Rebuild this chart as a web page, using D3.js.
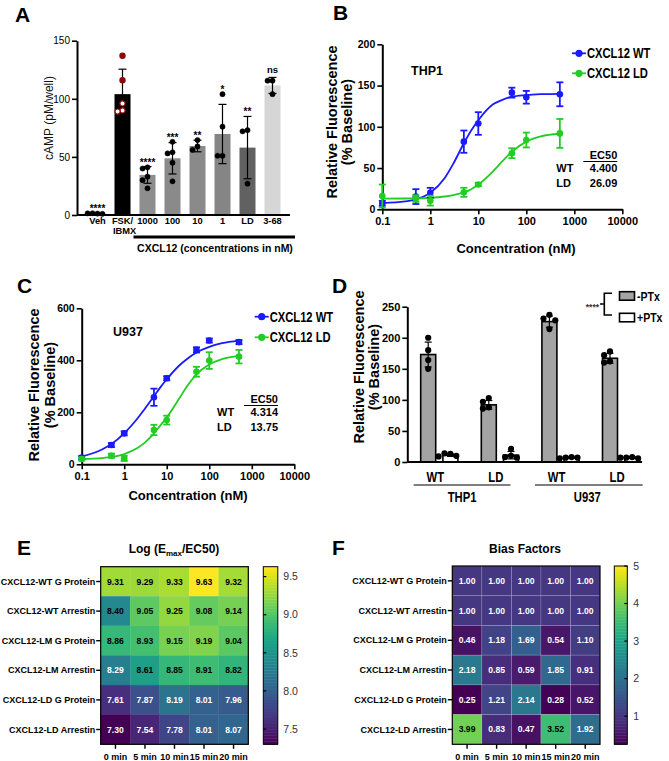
<!DOCTYPE html>
<html><head><meta charset="utf-8">
<script src="https://cdn.jsdelivr.net/npm/d3@7"></script>
<style>body{margin:0;background:#fff}svg{display:block}</style>
</head><body><div id="chart"></div>
<script>
// ---------- DATA ----------
// Panel A
const aCategories = ["Veh","FSK/IBMX","1000","100","10","1","LD","3-68"];
const aMeans = [1, 104, 34.5, 48.8, 59.4, 69.7, 58, 111.5];
const aSD = [0.4, 21.5, 7.2, 13.5, 5, 25.5, 26.8, 6.9];
const aPoints = [[1.2,1.5,1.0,1.4],[137,116,96,90,89],[41,40,33,30,23],[63,54,53,45,29],[64.5,59,56],[104,76,51,51],[73,72,27],[115.6,115.6,104]];
const aSig = ["****","","****","***","**","*","**","ns"];
const aYTicks = [0,50,100,150];
// Panel B (THP1)
const conc = [0.1,0.5,1,5,10,50,100,500];
const bWTMean = [7.3,15.4,20,82,104,141.4,135.8,139.4];
const bWTErr = [3,9,6,13.5,13.7,6,7.7,14.5];
const bLDMean = [16,13,10.5,20.6,30,68,84,92];
const bLDErr = [14,4,6,5.5,2,6,9,17.5];
const curveConc = [0.1,0.3,0.5,1,2,3,5,7,10,20,30,50,100,200,500];
const bWTCurve = [7.5,9.5,12,20,38,55,80,95,108,127,132,136.5,138.5,139.5,140];
const bLDCurve = [13,13.1,13.2,13.9,15.5,17.2,20.5,24,30,45.8,56.8,69.7,82,88.4,91.6];
const bEC50 = ["4.400","26.09"];
// Panel C (U937)
const cWTMean = [25.6,74,119,258,331,440,476,470];
const cWTErr = [6,8,8,33,8,10,8,8];
const cLDMean = [20.5,33,23,132,170,356,399,414];
const cLDErr = [6,8,10,20,17,19,32,26];
const cWTCurve = [30,57,78,119,174,212,262,295,327,381,405,430,452,466,476];
const cLDCurve = [20,24,28.4,39.5,61.7,82.2,119,149,180,255,300,346,384,404.7,417];
const cEC50 = ["4.314","13.75"];
const seriesNames = ["CXCL12 WT","CXCL12 LD"];
const ec50Rows = ["WT","LD"];
const logTicks = [0.1,1,10,100,1000,10000];
// Panel D
const dGroups = ["THP1 WT","THP1 LD","U937 WT","U937 LD"];
const dGroupLabels = ["WT","LD","WT","LD"];
const dCellLines = ["THP1","U937"];
const dTreat = ["-PTx","+PTx"];
const dMinusMean = [173,92,226,167];
const dMinusSD = [20,7,9,8];
const dPlusMean = [11,11,7,7];
const dPlusSD = [2,6,1,1.5];
const dMinusPts = [[200,180,164,150],[103,97,88,86],[237,231,228,214],[178,172,162,160]];
const dPlusPts = [[13,14,10,9],[21,10,8,7],[8,7,7,6],[8,7,6,7]];
// Panels E, F
const heatRows = ["CXCL12-WT G Protein","CXCL12-WT Arrestin","CXCL12-LM G Protein","CXCL12-LM Arrestin","CXCL12-LD G Protein","CXCL12-LD Arrestin"];
const heatCols = ["0 min","5 min","10 min","15 min","20 min"];
const eValues = [
  [9.31,9.29,9.33,9.63,9.32],
  [8.40,9.05,9.25,9.08,9.14],
  [8.86,8.93,9.15,9.19,9.04],
  [8.29,8.61,8.85,8.91,8.82],
  [7.61,7.87,8.19,8.01,7.96],
  [7.30,7.54,7.78,8.01,8.07]];
const eTicks = [7.5,8.0,8.5,9.0,9.5];
const fValues = [
  [1.00,1.00,1.00,1.00,1.00],
  [1.00,1.00,1.00,1.00,1.00],
  [0.46,1.18,1.69,0.54,1.10],
  [2.18,0.85,0.59,1.85,0.91],
  [0.25,1.21,2.14,0.28,0.52],
  [3.99,0.83,0.47,3.52,1.92]];
const fTicks = [1,2,3,4,5];

// ---------- STYLE ----------
const FONT = '"Liberation Sans", Arial, Helvetica, sans-serif';
const aFills = ["#ffffff","#000000","#8e8e8e","#8a8a8a","#8a8a8a","#858585","#616161","#d6d6d6"];
const BLUE = "#1a1aff", GREEN = "#22cc22";

const svg = d3.select("#chart").append("svg").attr("width",669).attr("height",761).style("font-family",FONT);

function txt(g,x,y,s,o={}){
  const t=g.append("text").text(s)
    .attr("font-size",o.size||10).attr("font-weight",o.bold?"bold":"normal")
    .attr("text-anchor",o.anchor||"start").attr("fill",o.fill||"#000");
  if(o.narrow){
    t.attr("x",0).attr("y",0).attr("transform",`translate(${x},${y}) scale(${o.narrow},1)`);
  } else {
    t.attr("x",x).attr("y",y);
    if(o.rotate) t.attr("transform",`rotate(-90,${x},${y})`);
  }
  if(o.dy) t.attr("dy",o.dy);
  return t;
}
function styleAxis(g,fs,bold){
  g.attr("font-family",FONT);
  g.select(".domain").attr("stroke","#000").attr("stroke-width",2);
  g.selectAll(".tick line").attr("stroke","#000").attr("stroke-width",1.6);
  g.selectAll(".tick text").attr("font-size",fs).attr("font-weight",bold?"bold":"normal").attr("fill","#000");
}
function swarm(vals,yS,r){
  const placed=[];const step=1.9*r;
  return vals.map(v=>{
    const y=yS(v);
    for(const k of [0,-1,1,-2,2,-3,3]){
      const x=k*step;
      if(placed.every(p=>Math.hypot(p.x-x,p.y-y)>=1.9*r)){placed.push({x,y});return {x,y,v};}
    }
    placed.push({x:0,y});return {x:0,y,v};
  });
}
function errBar(g,x,y1,y2,cap,color,w){
  g.append("line").attr("x1",x).attr("x2",x).attr("y1",y1).attr("y2",y2).attr("stroke",color).attr("stroke-width",w);
  [y1,y2].forEach(y=>g.append("line").attr("x1",x-cap/2).attr("x2",x+cap/2).attr("y1",y).attr("y2",y).attr("stroke",color).attr("stroke-width",w));
}
// panel letters
[["A",15,22],["B",333,20],["C",17,293],["D",332,293],["E",17,555],["F",332,555]].forEach(([t,x,y])=>txt(svg,x,y,t,{size:21,bold:true}));

// ---------- PANEL A ----------
(function(){
  const g=svg.append("g");
  const y=d3.scaleLinear().domain([0,150]).range([215,40.7]);
  const x=d3.scaleBand().domain(aCategories).range([85,285]).paddingInner(0.36).paddingOuter(0.18);
  const bw=x.bandwidth();
  aCategories.forEach((c,i)=>{
    g.append("rect").attr("x",x(c)).attr("y",y(aMeans[i])).attr("width",bw).attr("height",y(0)-y(aMeans[i])).attr("fill",aFills[i]);
  });
  aCategories.forEach((c,i)=>{
    const cx=x(c)+bw/2;
    if(i>0) errBar(g,cx,y(aMeans[i]-aSD[i]),y(aMeans[i]+aSD[i]),8,"#000",1.2);
    const r=2.6;
    swarm(aPoints[i],y,r).forEach(p=>{
      const red=i===1;
      g.append("circle").attr("cx",cx+p.x).attr("cy",p.y).attr("r",r)
        .attr("fill",red?(p.v>aMeans[i]+5?"#8b0a0a":"#fff"):"#000")
        .attr("stroke",red?"#8b0a0a":"#000").attr("stroke-width",red?1.2:0.5);
    });
    if(aSig[i]){
      const top=Math.max(aMeans[i]+aSD[i],d3.max(aPoints[i]));
      txt(g,cx,y(top)-(aSig[i]==="ns"?4:1),aSig[i],{size:aSig[i]==="ns"?9.5:10,bold:true,anchor:"middle"});
    }
    const parts=c.includes("/")?[c.split("/")[0]+"/",c.split("/")[1]]:[c];
    parts.forEach((p,k)=>txt(g,cx+(k===1?2:0),224+k*10,p,{size:9.3,bold:true,anchor:"middle"}));
  });
  const ax=g.append("g").attr("transform","translate(77,0)").call(d3.axisLeft(y).tickValues(aYTicks).tickSize(5).tickSizeOuter(0).tickPadding(2));
  styleAxis(ax,10,false);
  g.append("line").attr("x1",77).attr("x2",290).attr("y1",215).attr("y2",215).attr("stroke","#000").attr("stroke-width",2);
  g.append("line").attr("x1",x("1000")-6).attr("x2",295).attr("y1",237).attr("y2",237).attr("stroke","#000").attr("stroke-width",3);
  txt(g,215,252,"CXCL12 (concentrations in nM)",{size:10.5,bold:true,anchor:"middle"});
  txt(g,53,118,"cAMP (pM/well)",{size:12,anchor:"middle",rotate:true,fill:"#111"});
})();

// ---------- PANELS B & C ----------
function dosePanel(cfg){
  const g=svg.append("g");
  const x=d3.scaleLog().domain([0.1,10000]).range(cfg.xr);
  const y=d3.scaleLinear().domain(cfg.yd).range(cfg.yr);
  const ax=g.append("g").attr("transform",`translate(${cfg.xr[0]},0)`).call(d3.axisLeft(y).tickValues(cfg.yTicks).tickSize(5).tickSizeOuter(0).tickPadding(2));
  styleAxis(ax,10.5,true);
  const bx=g.append("g").attr("transform",`translate(0,${cfg.yr[0]})`).call(d3.axisBottom(x).tickValues(logTicks).tickFormat(d=>String(d)).tickSize(5).tickSizeOuter(0).tickPadding(3));
  styleAxis(bx,11,true);
  const line=d3.line().x(d=>x(d[0])).y(d=>y(d[1])).curve(d3.curveMonotoneX);
  const series=[[cfg.wtM,cfg.wtE,cfg.wtC,BLUE],[cfg.ldM,cfg.ldE,cfg.ldC,GREEN]];
  series.forEach(([m,e,c,col])=>{
    g.append("path").attr("d",line(curveConc.map((d,i)=>[d,c[i]]))).attr("fill","none").attr("stroke",col).attr("stroke-width",1.8);
  });
  series.forEach(([m,e,c,col])=>{
    conc.forEach((d,i)=>{
      errBar(g,x(d),y(m[i]-e[i]),y(m[i]+e[i]),7,col,1.8);
      g.append("circle").attr("cx",x(d)).attr("cy",y(m[i])).attr("r",3.3).attr("fill",col);
    });
  });
  // legend
  seriesNames.forEach((n,i)=>{
    const ly=cfg.leg[1]+i*cfg.legGap, lx=cfg.leg[0];
    const col=i?GREEN:BLUE;
    g.append("line").attr("x1",lx).attr("x2",lx+14).attr("y1",ly).attr("y2",ly).attr("stroke",col).attr("stroke-width",1.8);
    g.append("circle").attr("cx",lx+7).attr("cy",ly).attr("r",3.6).attr("fill",col);
    txt(g,lx+15,ly+5,n,{size:14,bold:true,narrow:0.8});
  });
  txt(g,cfg.cell[0],cfg.cell[1],cfg.cellName,{size:12.5,bold:true});
  // EC50 table
  const [ex,ey]=cfg.ec;
  txt(g,ex,ey,"EC50",{size:11,bold:true,anchor:"end"});
  g.append("line").attr("x1",ex-34).attr("x2",ex).attr("y1",ey+2.5).attr("y2",ey+2.5).attr("stroke","#000").attr("stroke-width",1);
  ec50Rows.forEach((r,i)=>{
    txt(g,ex-61,ey+13+i*14.5,r,{size:11,bold:true});
    txt(g,ex,ey+13+i*14.5,cfg.ecVals[i],{size:11,bold:true,anchor:"end"});
  });
  txt(g,cfg.xt[0],cfg.xt[1],"Concentration (nM)",{size:13,bold:true,anchor:"middle"});
  txt(g,cfg.yt[0],cfg.yt[2],"Relative Fluorescence",{size:14.5,bold:true,anchor:"middle",rotate:true});
  txt(g,cfg.yt[1],cfg.yt[2],"(% Baseline)",{size:14.5,bold:true,anchor:"middle",rotate:true});
}
dosePanel({xr:[382.3,622.3],yd:[0,200],yr:[209.3,44.3],yTicks:[0,50,100,150,200],
  wtM:bWTMean,wtE:bWTErr,wtC:bWTCurve,ldM:bLDMean,ldE:bLDErr,ldC:bLDCurve,
  leg:[572,53.3],legGap:20,cell:[411,75],cellName:"THP1",ec:[617.3,159],ecVals:bEC50,
  xt:[516,253],yt:[337,352,122]});
dosePanel({xr:[81.7,294.3],yd:[0,600],yr:[464.3,308.3],yTicks:[0,200,400,600],
  wtM:cWTMean,wtE:cWTErr,wtC:cWTCurve,ldM:cLDMean,ldE:cLDErr,ldC:cLDCurve,
  leg:[254.7,316.7],legGap:20.6,cell:[113,336],cellName:"U937",ec:[278,403],ecVals:cEC50,
  xt:[188,500],yt:[38.5,54.5,385]});

// ---------- PANEL D ----------
(function(){
  const g=svg.append("g");
  const y=d3.scaleLinear().domain([0,250]).range([462,306.7]);
  const x0=d3.scaleBand().domain(dGroups).range([409,651.4]);
  const x1=d3.scaleBand().domain(dTreat).range([0,x0.bandwidth()]).paddingInner(0.324).paddingOuter(0.527);
  const bw=x1.bandwidth();
  const sets=[[dMinusMean,dMinusSD,dMinusPts,"#a3a3a3"],[dPlusMean,dPlusSD,dPlusPts,"#ffffff"]];
  dGroups.forEach((grp,gi)=>{
    sets.forEach(([m,sd,pts,fill],ti)=>{
      const bx=x0(grp)+x1(dTreat[ti]);
      g.append("rect").attr("x",bx).attr("y",y(m[gi])).attr("width",bw).attr("height",y(0)-y(m[gi]))
        .attr("fill",fill).attr("stroke","#000").attr("stroke-width",1.6);
      const cx=bx+bw/2;
      errBar(g,cx,y(Math.max(0,m[gi]-sd[gi])),y(m[gi]+sd[gi]),7,"#000",1.2);
      swarm(pts[gi],y,3.1).forEach(p=>g.append("circle").attr("cx",cx+p.x).attr("cy",p.y).attr("r",3.1).attr("fill","#000"));
    });
    txt(g,x0(grp)+x0.bandwidth()/2-4,482,dGroupLabels[gi],{size:14.5,bold:true,anchor:"middle",narrow:0.78});
  });
  const ax=g.append("g").attr("transform","translate(407.3,0)").call(d3.axisLeft(y).tickValues([0,50,100,150,200,250]).tickSize(5).tickSizeOuter(0).tickPadding(2));
  styleAxis(ax,11,true);
  g.append("line").attr("x1",407.3).attr("x2",642).attr("y1",462).attr("y2",462).attr("stroke","#000").attr("stroke-width",2);
  dCellLines.forEach((cl,k)=>{
    const first=x0(dGroups[k*2])+x1(dTreat[0])-7;
    const last=x0(dGroups[k*2+1])+x1(dTreat[1])+bw-(k?0:8);
    g.append("line").attr("x1",first).attr("x2",last+(k?3:0)).attr("y1",485).attr("y2",485).attr("stroke","#000").attr("stroke-width",1.2);
    txt(g,(first+last)/2,501.5,cl,{size:14.5,bold:true,anchor:"middle",narrow:0.78});
  });
  // legend
  dTreat.forEach((t,i)=>{
    const ly=291.7+i*21.6;
    g.append("rect").attr("x",619.5).attr("y",ly).attr("width",15).attr("height",8.5).attr("fill",i?"#fff":"#a3a3a3").attr("stroke","#000").attr("stroke-width",1.6);
    txt(g,637,ly+8.8,t,{size:13.5,bold:true,narrow:0.78});
  });
  g.append("path").attr("d","M612,293.3H604.3V315H612M604.3,304H600").attr("fill","none").attr("stroke","#000").attr("stroke-width",1.6);
  txt(g,599,309.5,"****",{size:8.5,bold:true,anchor:"end",fill:"#333"});
  txt(g,364,367,"Relative Fluorescence",{size:14.5,bold:true,anchor:"middle",rotate:true});
  txt(g,379,367,"(% Baseline)",{size:14.5,bold:true,anchor:"middle",rotate:true});
})();

// ---------- PANELS E & F ----------
function heatPanel(cfg){
  const g=svg.append("g");
  const x=d3.scaleBand().domain(heatCols).range(cfg.xr);
  const y=d3.scaleBand().domain(heatRows).range(cfg.yr);
  const col=d3.scaleSequential(d3.interpolateViridis).domain(cfg.domain);
  heatRows.forEach((r,i)=>heatCols.forEach((c,j)=>{
    const v=cfg.values[i][j];
    g.append("rect").attr("x",x(c)).attr("y",y(r)).attr("width",x.bandwidth()).attr("height",y.bandwidth())
      .attr("fill",col(v)).attr("stroke",cfg.grid?"rgba(255,255,255,0.16)":col(v)).attr("stroke-width",cfg.grid?0.8:0.3);
  }));
  heatRows.forEach((r,i)=>heatCols.forEach((c,j)=>{
    const v=cfg.values[i][j];
    txt(g,x(c)+x.bandwidth()/2,y(r)+y.bandwidth()/2,v.toFixed(2),{size:8.6,bold:true,anchor:"middle",dy:"0.35em",fill:cfg.dark(v)?"#000":"#fff"});
  }));
  g.append("rect").attr("x",cfg.xr[0]).attr("y",cfg.yr[0]).attr("width",cfg.xr[1]-cfg.xr[0]).attr("height",cfg.yr[1]-cfg.yr[0]).attr("fill","none").attr("stroke","#000").attr("stroke-width",1.2);
  heatRows.forEach(r=>{
    const cy=y(r)+y.bandwidth()/2;
    g.append("line").attr("x1",cfg.xr[0]-4.5).attr("x2",cfg.xr[0]).attr("y1",cy).attr("y2",cy).attr("stroke","#000").attr("stroke-width",1.4);
    txt(g,cfg.xr[0]-5.5,cy,r,{size:9,bold:true,anchor:"end",dy:"0.35em"});
  });
  heatCols.forEach(c=>{
    const cx=x(c)+x.bandwidth()/2;
    g.append("line").attr("x1",cx).attr("x2",cx).attr("y1",cfg.yr[1]).attr("y2",cfg.yr[1]+4.5).attr("stroke","#000").attr("stroke-width",1.4);
    txt(g,cx,760,c,{size:9,bold:true,anchor:"middle"});
  });
  // colour bar
  const [bx,bwid]=cfg.bar;
  const cy=d3.scaleLinear().domain(cfg.barDomain).range([cfg.yr[1],cfg.yr[0]]);
  const n=60, lo=cfg.barDomain[0], hi=cfg.barDomain[1];
  d3.range(n).forEach(k=>{
    const v0=lo+(hi-lo)*k/n, v1=lo+(hi-lo)*(k+1)/n;
    g.append("rect").attr("x",bx).attr("y",cy(v1)).attr("width",bwid).attr("height",cy(v0)-cy(v1)+0.4).attr("fill",col((v0+v1)/2));
  });
  g.append("rect").attr("x",bx).attr("y",cfg.yr[0]).attr("width",bwid).attr("height",cfg.yr[1]-cfg.yr[0]).attr("fill","none").attr("stroke","#000").attr("stroke-width",1);
  cfg.ticks.forEach(t=>{
    const ty=cy(t);
    const tx=cfg.tickLeft?bx:bx+bwid-3;
    g.append("line").attr("x1",tx).attr("x2",tx+3).attr("y1",ty).attr("y2",ty).attr("stroke","#000").attr("stroke-width",1.2);
    txt(g,bx+bwid+cfg.labelGap,ty,cfg.fmt(t),{size:10.5,anchor:"start",dy:"0.35em",fill:"#333"});
  });
}
const eExt=d3.extent(eValues.flat());
heatPanel({xr:[100.7,248.3],yr:[566.7,744.3],values:eValues,domain:eExt,barDomain:eExt,grid:false,
  dark:v=>v>=8.35,bar:[263.3,14.5],ticks:eTicks,tickLeft:true,labelGap:5.5,fmt:d3.format(".1f")});
const fDom=[d3.min(fValues.flat()),d3.max(fTicks)];
heatPanel({xr:[452.3,600],yr:[566,744.3],values:fValues,domain:fDom,barDomain:fDom,grid:true,
  dark:v=>v>=3,bar:[614.3,13],ticks:fTicks,tickLeft:false,labelGap:6,fmt:d=>String(d)});
// titles E/F
(function(){
  const t=txt(svg,174,553,"Log (E",{size:12,bold:true,anchor:"middle"});
  t.append("tspan").attr("font-size",8).attr("dy",3).text("max");
  t.append("tspan").attr("dy",-3).text("/EC50)");
  txt(svg,525,552.7,"Bias Factors",{size:12,bold:true,anchor:"middle"});
})();
</script></body></html>
